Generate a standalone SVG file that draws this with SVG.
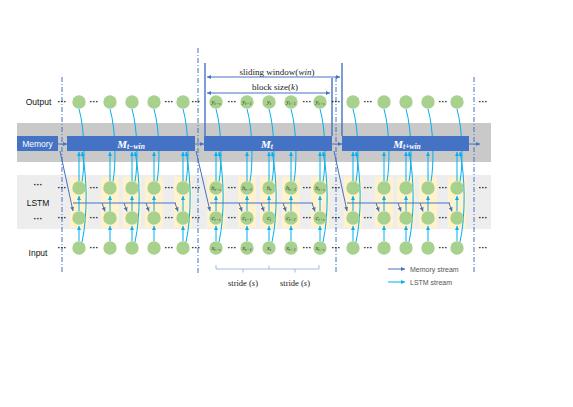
<svg xmlns="http://www.w3.org/2000/svg" width="573" height="407" viewBox="0 0 573 407">
<defs>
<style>
.lb{fill:none;stroke:#00B0F0;stroke-width:1}
.mb{fill:none;stroke:#4472C4;stroke-width:1}
.dd{fill:none;stroke:#4472C4;stroke-width:1;stroke-dasharray:5 2 1 2}
.vl{fill:none;stroke:#4472C4;stroke-width:1.4}
.yb{fill:#FFF2CC}
.nd{fill:#A9D18E}
.bar{fill:#4472C4}
.lab{font-family:"Liberation Sans",Arial,sans-serif;font-size:8.5px;fill:#111;text-anchor:middle}
.dots{font-family:"Liberation Sans",Arial,sans-serif;font-size:9px;font-weight:bold;fill:#111;text-anchor:middle}
.ser{font-family:"Liberation Serif","Times New Roman",serif;font-size:9px;fill:#222;text-anchor:middle}
.cl{font-family:"Liberation Serif","Times New Roman",serif;font-size:6.5px;font-style:italic;fill:#333;text-anchor:middle}
.sb{font-size:4.6px}
.ml{font-family:"Liberation Serif","Times New Roman",serif;font-size:11px;font-style:italic;font-weight:bold;fill:#fff;text-anchor:middle}
.ms{font-size:7.5px}
.leg{font-family:"Liberation Sans",Arial,sans-serif;font-size:7px;fill:#555}
</style>
<marker id="ab" viewBox="0 0 6 6" refX="6" refY="3" markerWidth="4" markerHeight="4" markerUnits="userSpaceOnUse" orient="auto-start-reverse"><path d="M0,0 L6,3 L0,6 z" fill="#4472C4"/></marker>
<marker id="al" viewBox="0 0 6 6" refX="6" refY="3" markerWidth="4" markerHeight="4" markerUnits="userSpaceOnUse" orient="auto-start-reverse"><path d="M0,0 L6,3 L0,6 z" fill="#00B0F0"/></marker>
</defs>
<rect width="573" height="407" fill="#fff"/>

<g id="bands">
<rect x="17" y="123" width="474" height="39" fill="#C9C9C9"/>
<rect x="17" y="175" width="474" height="54" fill="#EDEDED"/>
</g>

<g id="column-boxes">
<rect class="yb" x="70" y="177" width="18" height="51" rx="2"/>
<rect class="yb" x="101" y="177" width="18" height="51" rx="2"/>
<rect class="yb" x="123" y="177" width="18" height="51" rx="2"/>
<rect class="yb" x="145" y="177" width="18" height="51" rx="2"/>
<rect class="yb" x="174" y="177" width="18" height="51" rx="2"/>
<rect class="yb" x="207" y="177" width="18" height="51" rx="2"/>
<rect class="yb" x="238" y="177" width="18" height="51" rx="2"/>
<rect class="yb" x="260" y="177" width="18" height="51" rx="2"/>
<rect class="yb" x="282" y="177" width="18" height="51" rx="2"/>
<rect class="yb" x="311" y="177" width="18" height="51" rx="2"/>
<rect class="yb" x="344" y="177" width="18" height="51" rx="2"/>
<rect class="yb" x="375" y="177" width="18" height="51" rx="2"/>
<rect class="yb" x="397" y="177" width="18" height="51" rx="2"/>
<rect class="yb" x="419" y="177" width="18" height="51" rx="2"/>
<rect class="yb" x="448" y="177" width="18" height="51" rx="2"/>
</g>

<g id="guides">
<path class="dd" d="M62,77 L62,274"/>
<path class="dd" d="M198,48 L198,274"/>
<path class="dd" d="M336,77 L336,274"/>
<path class="dd" d="M474,77 L474,274"/>
</g>

<g id="connectors">
<path class="lb" d="M79,109 C85,130 85,165 82,181.5"/>
<path class="lb" d="M79,181 L79,152" marker-end="url(#al)"/>
<path class="lb" d="M82,242 C88,215 87,175 82,152" marker-end="url(#al)"/>
<path class="lb" d="M79,241 L79,226" marker-end="url(#al)"/>
<path class="lb" d="M79,211 L79,196" marker-end="url(#al)"/>
<path class="lb" d="M110,109 C116,130 116,165 113,181.5"/>
<path class="lb" d="M110,181 L110,152" marker-end="url(#al)"/>
<path class="lb" d="M110,241 L110,226" marker-end="url(#al)"/>
<path class="lb" d="M110,211 L110,196" marker-end="url(#al)"/>
<path class="lb" d="M132,109 C138,130 138,165 135,181.5"/>
<path class="lb" d="M132,181 L132,152" marker-end="url(#al)"/>
<path class="lb" d="M135,242 C141,215 140,175 135,152" marker-end="url(#al)"/>
<path class="lb" d="M132,241 L132,226" marker-end="url(#al)"/>
<path class="lb" d="M132,211 L132,196" marker-end="url(#al)"/>
<path class="lb" d="M154,109 C160,130 160,165 157,181.5"/>
<path class="lb" d="M154,181 L154,152" marker-end="url(#al)"/>
<path class="lb" d="M154,241 L154,226" marker-end="url(#al)"/>
<path class="lb" d="M154,211 L154,196" marker-end="url(#al)"/>
<path class="lb" d="M183,109 C189,130 189,165 186,181.5"/>
<path class="lb" d="M183,181 L183,152" marker-end="url(#al)"/>
<path class="lb" d="M186,242 C192,215 191,175 186,152" marker-end="url(#al)"/>
<path class="lb" d="M183,241 L183,226" marker-end="url(#al)"/>
<path class="lb" d="M183,211 L183,196" marker-end="url(#al)"/>
<path class="lb" d="M216,109 C222,130 222,165 219,181.5"/>
<path class="lb" d="M216,181 L216,152" marker-end="url(#al)"/>
<path class="lb" d="M219,242 C225,215 224,175 219,152" marker-end="url(#al)"/>
<path class="lb" d="M216,241 L216,226" marker-end="url(#al)"/>
<path class="lb" d="M216,211 L216,196" marker-end="url(#al)"/>
<path class="lb" d="M247,109 C253,130 253,165 250,181.5"/>
<path class="lb" d="M247,181 L247,152" marker-end="url(#al)"/>
<path class="lb" d="M247,241 L247,226" marker-end="url(#al)"/>
<path class="lb" d="M247,211 L247,196" marker-end="url(#al)"/>
<path class="lb" d="M269,109 C275,130 275,165 272,181.5"/>
<path class="lb" d="M269,181 L269,152" marker-end="url(#al)"/>
<path class="lb" d="M272,242 C278,215 277,175 272,152" marker-end="url(#al)"/>
<path class="lb" d="M269,241 L269,226" marker-end="url(#al)"/>
<path class="lb" d="M269,211 L269,196" marker-end="url(#al)"/>
<path class="lb" d="M291,109 C297,130 297,165 294,181.5"/>
<path class="lb" d="M291,181 L291,152" marker-end="url(#al)"/>
<path class="lb" d="M291,241 L291,226" marker-end="url(#al)"/>
<path class="lb" d="M291,211 L291,196" marker-end="url(#al)"/>
<path class="lb" d="M320,109 C326,130 326,165 323,181.5"/>
<path class="lb" d="M320,181 L320,152" marker-end="url(#al)"/>
<path class="lb" d="M323,242 C329,215 328,175 323,152" marker-end="url(#al)"/>
<path class="lb" d="M320,241 L320,226" marker-end="url(#al)"/>
<path class="lb" d="M320,211 L320,196" marker-end="url(#al)"/>
<path class="lb" d="M353,109 C359,130 359,165 356,181.5"/>
<path class="lb" d="M353,181 L353,152" marker-end="url(#al)"/>
<path class="lb" d="M356,242 C362,215 361,175 356,152" marker-end="url(#al)"/>
<path class="lb" d="M353,241 L353,226" marker-end="url(#al)"/>
<path class="lb" d="M353,211 L353,196" marker-end="url(#al)"/>
<path class="lb" d="M384,109 C390,130 390,165 387,181.5"/>
<path class="lb" d="M384,181 L384,152" marker-end="url(#al)"/>
<path class="lb" d="M384,241 L384,226" marker-end="url(#al)"/>
<path class="lb" d="M384,211 L384,196" marker-end="url(#al)"/>
<path class="lb" d="M406,109 C412,130 412,165 409,181.5"/>
<path class="lb" d="M406,181 L406,152" marker-end="url(#al)"/>
<path class="lb" d="M409,242 C415,215 414,175 409,152" marker-end="url(#al)"/>
<path class="lb" d="M406,241 L406,226" marker-end="url(#al)"/>
<path class="lb" d="M406,211 L406,196" marker-end="url(#al)"/>
<path class="lb" d="M428,109 C434,130 434,165 431,181.5"/>
<path class="lb" d="M428,181 L428,152" marker-end="url(#al)"/>
<path class="lb" d="M428,241 L428,226" marker-end="url(#al)"/>
<path class="lb" d="M428,211 L428,196" marker-end="url(#al)"/>
<path class="lb" d="M457,109 C463,130 463,165 460,181.5"/>
<path class="lb" d="M457,181 L457,152" marker-end="url(#al)"/>
<path class="lb" d="M460,242 C466,215 465,175 460,152" marker-end="url(#al)"/>
<path class="lb" d="M457,241 L457,226" marker-end="url(#al)"/>
<path class="lb" d="M457,211 L457,196" marker-end="url(#al)"/>
</g>

<g id="memory">
<rect class="bar" x="17" y="136" width="41" height="15"/>
<text class="lab" x="37.5" y="147" style="fill:#fff">Memory</text>
</g>
<g id="M-t-win">
<rect class="bar" x="67" y="136" width="128" height="15"/>
<text class="ml" x="131" y="147.5">M<tspan class="ms" dy="1.5">t−win</tspan></text>
</g>
<g id="M-t">
<rect class="bar" x="204" y="136" width="128" height="15"/>
<text class="ml" x="267" y="147.5">M<tspan class="ms" dy="1.5">t</tspan></text>
</g>
<g id="M-t-plus-win">
<rect class="bar" x="342" y="136" width="127" height="15"/>
<text class="ml" x="407" y="147.5">M<tspan class="ms" dy="1.5">t+win</tspan></text>
</g>

<g id="memory-connectors">
<path class="mb" d="M58,144 L67,144" marker-end="url(#ab)"/>
<path class="mb" d="M195,144 L204,144" marker-end="url(#ab)"/>
<path class="mb" d="M332,144 L342,144" marker-end="url(#ab)"/>
<path class="mb" d="M469,144 L480,144" marker-end="url(#ab)"/>
<path class="mb" d="M60,151 L73,211" marker-end="url(#ab)"/>
<path class="mb" d="M73,203 L176,203"/>
<path class="mb" d="M102,203 L105,211.5" marker-end="url(#ab)"/>
<path class="mb" d="M124,203 L127,211.5" marker-end="url(#ab)"/>
<path class="mb" d="M146,203 L149,211.5" marker-end="url(#ab)"/>
<path class="mb" d="M175,203 L178,211.5" marker-end="url(#ab)"/>
<path class="mb" d="M196,151 L210,211" marker-end="url(#ab)"/>
<path class="mb" d="M210,203 L313,203"/>
<path class="mb" d="M239,203 L242,211.5" marker-end="url(#ab)"/>
<path class="mb" d="M261,203 L264,211.5" marker-end="url(#ab)"/>
<path class="mb" d="M283,203 L286,211.5" marker-end="url(#ab)"/>
<path class="mb" d="M312,203 L315,211.5" marker-end="url(#ab)"/>
<path class="mb" d="M334,151 L347,211" marker-end="url(#ab)"/>
<path class="mb" d="M347,203 L450,203"/>
<path class="mb" d="M376,203 L379,211.5" marker-end="url(#ab)"/>
<path class="mb" d="M398,203 L401,211.5" marker-end="url(#ab)"/>
<path class="mb" d="M420,203 L423,211.5" marker-end="url(#ab)"/>
<path class="mb" d="M449,203 L452,211.5" marker-end="url(#ab)"/>
</g>

<g id="window-markers">
<path class="vl" d="M205,63 L205,136"/>
<path class="vl" d="M342,63 L342,136"/>
<path class="vl" d="M332,78 L332,136"/>
<path class="mb" d="M207,77 L340,77" stroke-width="0.8" marker-start="url(#ab)" marker-end="url(#ab)"/>
<path class="mb" d="M207,93 L330,93" stroke-width="0.8" marker-start="url(#ab)" marker-end="url(#ab)"/>
<text class="ser" x="277" y="75">sliding window(<tspan font-style="italic">win</tspan>)</text>
<text class="ser" x="275" y="89.5">block size(<tspan font-style="italic">k</tspan>)</text>
</g>

<g id="nodes">
<g id="col-b1-1"><circle class="nd" cx="79" cy="102" r="6.7"/><circle class="nd" cx="79" cy="188" r="6.7"/><circle class="nd" cx="79" cy="218" r="6.7"/><circle class="nd" cx="79" cy="248" r="6.7"/></g>
<g id="col-b1-2"><circle class="nd" cx="110" cy="102" r="6.7"/><circle class="nd" cx="110" cy="188" r="6.7"/><circle class="nd" cx="110" cy="218" r="6.7"/><circle class="nd" cx="110" cy="248" r="6.7"/></g>
<g id="col-b1-3"><circle class="nd" cx="132" cy="102" r="6.7"/><circle class="nd" cx="132" cy="188" r="6.7"/><circle class="nd" cx="132" cy="218" r="6.7"/><circle class="nd" cx="132" cy="248" r="6.7"/></g>
<g id="col-b1-4"><circle class="nd" cx="154" cy="102" r="6.7"/><circle class="nd" cx="154" cy="188" r="6.7"/><circle class="nd" cx="154" cy="218" r="6.7"/><circle class="nd" cx="154" cy="248" r="6.7"/></g>
<g id="col-b1-5"><circle class="nd" cx="183" cy="102" r="6.7"/><circle class="nd" cx="183" cy="188" r="6.7"/><circle class="nd" cx="183" cy="218" r="6.7"/><circle class="nd" cx="183" cy="248" r="6.7"/></g>
<g id="col-t-s">
<circle class="nd" cx="216" cy="102" r="6.7"/><circle class="nd" cx="216" cy="188" r="6.7"/><circle class="nd" cx="216" cy="218" r="6.7"/><circle class="nd" cx="216" cy="248" r="6.7"/>
<text class="cl" x="216" y="104">y<tspan class="sb" dy="1">t−s</tspan></text>
<text class="cl" x="216" y="190">h<tspan class="sb" dy="1">t−s</tspan></text>
<text class="cl" x="216" y="220">c<tspan class="sb" dy="1">t−s</tspan></text>
<text class="cl" x="216" y="250">x<tspan class="sb" dy="1">t−s</tspan></text>
</g>
<g id="col-t-1">
<circle class="nd" cx="247" cy="102" r="6.7"/><circle class="nd" cx="247" cy="188" r="6.7"/><circle class="nd" cx="247" cy="218" r="6.7"/><circle class="nd" cx="247" cy="248" r="6.7"/>
<text class="cl" x="247" y="104">y<tspan class="sb" dy="1">t−1</tspan></text>
<text class="cl" x="247" y="190">h<tspan class="sb" dy="1">t−1</tspan></text>
<text class="cl" x="247" y="220">c<tspan class="sb" dy="1">t−1</tspan></text>
<text class="cl" x="247" y="250">x<tspan class="sb" dy="1">t−1</tspan></text>
</g>
<g id="col-t">
<circle class="nd" cx="269" cy="102" r="6.7"/><circle class="nd" cx="269" cy="188" r="6.7"/><circle class="nd" cx="269" cy="218" r="6.7"/><circle class="nd" cx="269" cy="248" r="6.7"/>
<text class="cl" x="269" y="104">y<tspan class="sb" dy="1">t</tspan></text>
<text class="cl" x="269" y="190">h<tspan class="sb" dy="1">t</tspan></text>
<text class="cl" x="269" y="220">c<tspan class="sb" dy="1">t</tspan></text>
<text class="cl" x="269" y="250">x<tspan class="sb" dy="1">t</tspan></text>
</g>
<g id="col-t+1">
<circle class="nd" cx="291" cy="102" r="6.7"/><circle class="nd" cx="291" cy="188" r="6.7"/><circle class="nd" cx="291" cy="218" r="6.7"/><circle class="nd" cx="291" cy="248" r="6.7"/>
<text class="cl" x="291" y="104">y<tspan class="sb" dy="1">t+1</tspan></text>
<text class="cl" x="291" y="190">h<tspan class="sb" dy="1">t+1</tspan></text>
<text class="cl" x="291" y="220">c<tspan class="sb" dy="1">t+1</tspan></text>
<text class="cl" x="291" y="250">x<tspan class="sb" dy="1">t+1</tspan></text>
</g>
<g id="col-t+s">
<circle class="nd" cx="320" cy="102" r="6.7"/><circle class="nd" cx="320" cy="188" r="6.7"/><circle class="nd" cx="320" cy="218" r="6.7"/><circle class="nd" cx="320" cy="248" r="6.7"/>
<text class="cl" x="320" y="104">y<tspan class="sb" dy="1">t+s</tspan></text>
<text class="cl" x="320" y="190">h<tspan class="sb" dy="1">t+s</tspan></text>
<text class="cl" x="320" y="220">c<tspan class="sb" dy="1">t+s</tspan></text>
<text class="cl" x="320" y="250">x<tspan class="sb" dy="1">t+s</tspan></text>
</g>
<g id="col-b3-1"><circle class="nd" cx="353" cy="102" r="6.7"/><circle class="nd" cx="353" cy="188" r="6.7"/><circle class="nd" cx="353" cy="218" r="6.7"/><circle class="nd" cx="353" cy="248" r="6.7"/></g>
<g id="col-b3-2"><circle class="nd" cx="384" cy="102" r="6.7"/><circle class="nd" cx="384" cy="188" r="6.7"/><circle class="nd" cx="384" cy="218" r="6.7"/><circle class="nd" cx="384" cy="248" r="6.7"/></g>
<g id="col-b3-3"><circle class="nd" cx="406" cy="102" r="6.7"/><circle class="nd" cx="406" cy="188" r="6.7"/><circle class="nd" cx="406" cy="218" r="6.7"/><circle class="nd" cx="406" cy="248" r="6.7"/></g>
<g id="col-b3-4"><circle class="nd" cx="428" cy="102" r="6.7"/><circle class="nd" cx="428" cy="188" r="6.7"/><circle class="nd" cx="428" cy="218" r="6.7"/><circle class="nd" cx="428" cy="248" r="6.7"/></g>
<g id="col-b3-5"><circle class="nd" cx="457" cy="102" r="6.7"/><circle class="nd" cx="457" cy="188" r="6.7"/><circle class="nd" cx="457" cy="218" r="6.7"/><circle class="nd" cx="457" cy="248" r="6.7"/></g>
</g>

<g id="ellipses">
<text class="dots" x="62" y="105">···</text><text class="dots" x="94" y="105">···</text><text class="dots" x="169" y="105">···</text>
<text class="dots" x="196" y="105">···</text><text class="dots" x="232" y="105">···</text><text class="dots" x="307" y="105">···</text>
<text class="dots" x="336" y="105">···</text><text class="dots" x="368" y="105">···</text><text class="dots" x="443" y="105">···</text><text class="dots" x="483" y="105">···</text>
<text class="dots" x="62" y="191">···</text><text class="dots" x="94" y="191">···</text><text class="dots" x="169" y="191">···</text>
<text class="dots" x="196" y="191">···</text><text class="dots" x="232" y="191">···</text><text class="dots" x="307" y="191">···</text>
<text class="dots" x="336" y="191">···</text><text class="dots" x="368" y="191">···</text><text class="dots" x="443" y="191">···</text><text class="dots" x="483" y="191">···</text>
<text class="dots" x="62" y="221">···</text><text class="dots" x="94" y="221">···</text><text class="dots" x="169" y="221">···</text>
<text class="dots" x="196" y="221">···</text><text class="dots" x="232" y="221">···</text><text class="dots" x="307" y="221">···</text>
<text class="dots" x="336" y="221">···</text><text class="dots" x="368" y="221">···</text><text class="dots" x="443" y="221">···</text><text class="dots" x="483" y="221">···</text>
<text class="dots" x="62" y="251">···</text><text class="dots" x="94" y="251">···</text><text class="dots" x="169" y="251">···</text>
<text class="dots" x="196" y="251">···</text><text class="dots" x="232" y="251">···</text><text class="dots" x="307" y="251">···</text>
<text class="dots" x="336" y="251">···</text><text class="dots" x="368" y="251">···</text><text class="dots" x="443" y="251">···</text><text class="dots" x="483" y="251">···</text>
<text class="dots" x="38" y="188">···</text><text class="dots" x="38" y="222">···</text>
</g>

<g id="row-labels">
<text class="lab" x="38.5" y="105">Output</text>
<text class="lab" x="38" y="206">LSTM</text>
<text class="lab" x="38" y="256">Input</text>
</g>

<g id="stride">
<path d="M216,265 L216,269 L319,269 L319,265 M269,269 L269,265.5 M243,269 L243,272.5 M295,269 L295,272.5" fill="none" stroke="#8FAADC" stroke-width="0.8"/>
<text class="ser" x="243" y="286" style="font-size:8.5px">stride (<tspan font-style="italic">s</tspan>)</text>
<text class="ser" x="295" y="286" style="font-size:8.5px">stride (<tspan font-style="italic">s</tspan>)</text>
</g>

<g id="legend">
<path class="mb" d="M388,269 L405,269" marker-end="url(#ab)"/>
<text class="leg" x="410" y="271.5">Memory stream</text>
<path class="lb" d="M388,282 L405,282" marker-end="url(#al)"/>
<text class="leg" x="410" y="284.5">LSTM stream</text>
</g>
</svg>
